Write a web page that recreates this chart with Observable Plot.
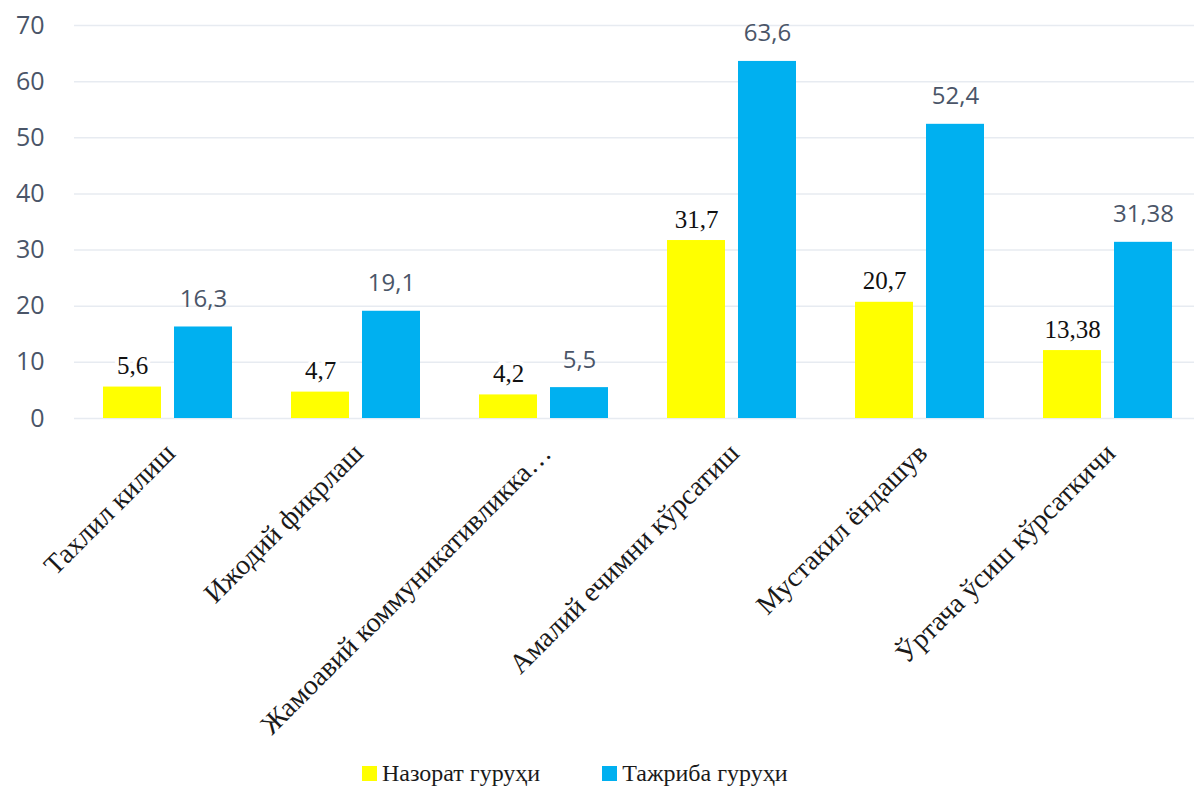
<!DOCTYPE html>
<html><head><meta charset="utf-8">
<script src="https://cdn.jsdelivr.net/npm/d3@7"></script>
<script src="https://cdn.jsdelivr.net/npm/@observablehq/plot@0.6"></script>
<style>
body{margin:0;background:#fff;overflow:hidden;width:1194px;height:796px}
#chart svg{display:block;overflow:visible}
#legend{display:flex;align-items:center;height:46px;padding-left:362px;font-family:"Liberation Serif","DejaVu Serif",serif;font-size:24px;color:#1a1a1a}
#legend .item{display:flex;align-items:center;margin-right:62px}
#legend .sw{width:15px;height:15px;margin-right:5px}
</style></head><body>
<div id="chart"></div>
<div id="legend"></div>
<script>
const categories = ["Тахлил килиш","Ижодий фикрлаш","Жамоавий коммуникативликка…","Амалий ечимни кўрсатиш","Мустакил ёндашув","Ўртача ўсиш кўрсаткичи"];
const series = ["Назорат гуруҳи","Тажриба гуруҳи"];
const control = [5.6, 4.7, 4.2, 31.7, 20.7, 12.1];
const controlLabels = ["5,6","4,7","4,2","31,7","20,7","13,38"];
const experimental = [16.3, 19.1, 5.5, 63.6, 52.4, 31.38];
const experimentalLabels = ["16,3","19,1","5,5","63,6","52,4","31,38"];
const yTicks = [0,10,20,30,40,50,60,70];
const colors = ["#FFFF00","#00B0F0"];

const data = categories.flatMap((c,i)=>[
  {category:c, series:series[0], value:control[i], label:controlLabels[i]},
  {category:c, series:series[1], value:experimental[i], label:experimentalLabels[i]}
]);

const chart = Plot.plot({
  width:1194, height:750,
  marginLeft:74, marginRight:-8, marginTop:25, marginBottom:332,
  fx:{domain:categories, padding:0, label:null},
  x:{domain:series, paddingInner:0.18, paddingOuter:0.4, axis:null},
  y:{domain:[0,70], axis:null},
  color:{domain:series, range:colors},
  marks:[
    Plot.ruleY(yTicks, {stroke:"#E7EBF1", strokeWidth:1.5}),
    Plot.axisY({ticks:yTicks, tickSize:0, tickPadding:30, fontSize:25, fontFamily:"Open Sans, sans-serif", fill:"#4a5568", label:null}),
    Plot.barY(data, {fx:"category", x:"series", y:"value", fill:"series"}),
    Plot.text(data.filter(d=>d.series===series[0]), {fx:"category", x:"series", y:"value", text:"label", dy:-13, lineAnchor:"bottom", fontFamily:"Liberation Serif, serif", fontSize:25, fill:"#111", stroke:"white", strokeWidth:8}),
    Plot.text(data.filter(d=>d.series===series[1]), {fx:"category", x:"series", y:"value", text:"label", dy:-20, lineAnchor:"bottom", fontFamily:"Open Sans, sans-serif", fontSize:24, fill:"#4a5568"}),
    Plot.axisFx({anchor:"bottom", tickRotate:-45, tickSize:0, tickPadding:30, dx:2, fontSize:28, fontFamily:"Liberation Serif, serif", fill:"#1a1a1a", label:null})
  ]
});
document.getElementById("chart").append(chart);

const legend = document.getElementById("legend");
series.forEach((s,i)=>{
  const it = document.createElement("div"); it.className="item";
  const sw = document.createElement("div"); sw.className="sw"; sw.style.background=colors[i];
  const t = document.createElement("span"); t.textContent=s;
  it.append(sw,t); legend.append(it);
});
</script>
</body></html>
